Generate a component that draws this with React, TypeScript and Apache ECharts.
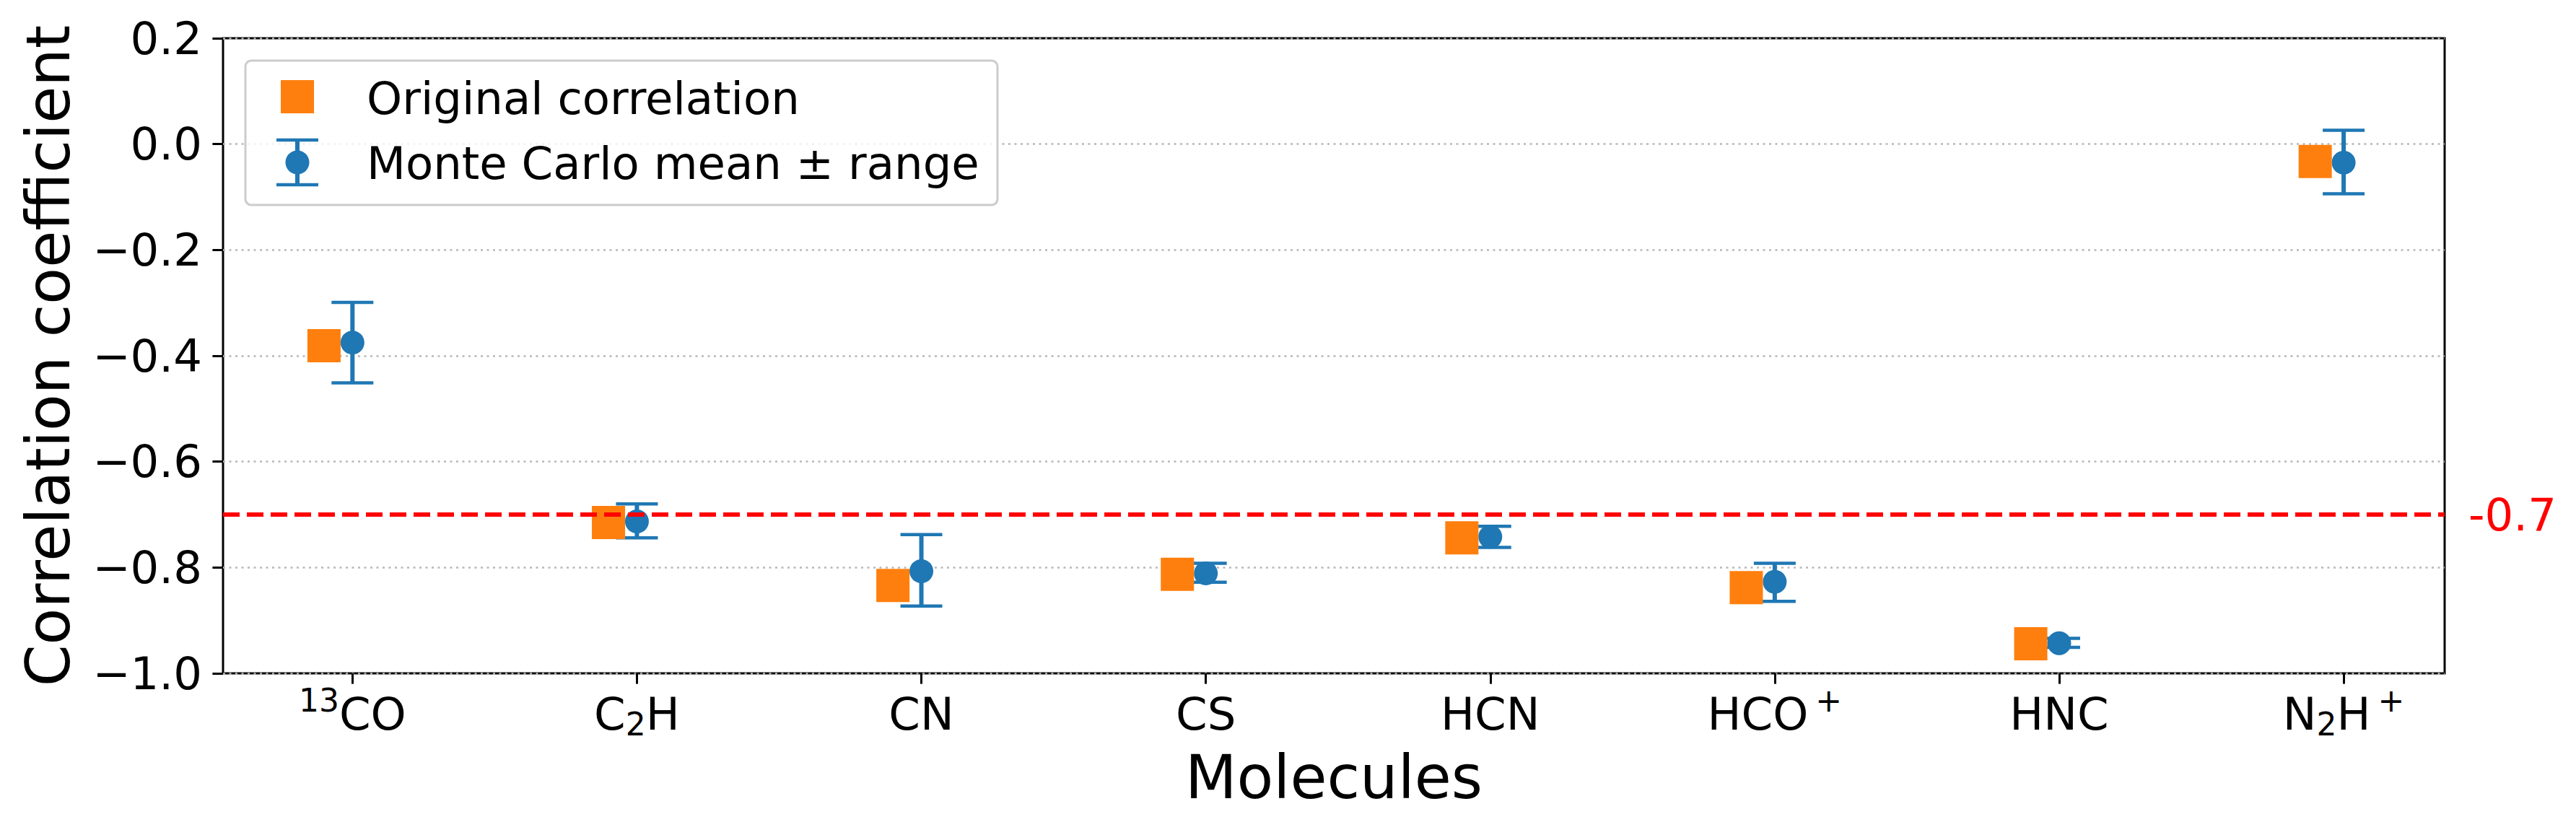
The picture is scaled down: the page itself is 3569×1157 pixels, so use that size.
import React, { useEffect, useRef } from 'react';
import * as echarts from 'echarts';

// ---- data ----
const molecules = ['13CO', 'C2H', 'CN', 'CS', 'HCN', 'HCO+', 'HNC', 'N2H+'];
const tickLabels = [
  '{sup|13}{n|CO}',
  '{n|C}{sub|2}{n|H}',
  '{n|CN}',
  '{n|CS}',
  '{n|HCN}',
  '{n|HCO}{supp|+}',
  '{n|HNC}',
  '{n|N}{sub|2}{n|H}{supp|+}',
];
const originalCorr = [-0.381, -0.715, -0.834, -0.813, -0.744, -0.838, -0.944, -0.033];
const mcMean = [-0.375, -0.713, -0.807, -0.811, -0.742, -0.827, -0.943, -0.035];
const mcLow = [-0.451, -0.744, -0.873, -0.828, -0.762, -0.864, -0.951, -0.094];
const mcHigh = [-0.299, -0.68, -0.738, -0.792, -0.722, -0.792, -0.934, 0.026];
const threshold = -0.7;
const xMin = -0.455;
const xMax = 7.355;
const yMin = -1.0;
const yMax = 0.2;
const yStep = 0.2;
const origOffset = -0.1;

const FONT = 'DejaVu Sans';
const BLUE = '#1f77b4';
const ORANGE = '#ff7f0e';

export default function App() {
  const ref = useRef<HTMLDivElement>(null);

  useEffect(() => {
    if (!ref.current) return;
    const chart = echarts.init(ref.current, null, { renderer: 'svg' });

    const positions = molecules.map((_, i) => i);
    const origData = positions.map((x, i) => [x + origOffset, originalCorr[i]]);
    const meanData = positions.map((x, i) => [x, mcMean[i]]);
    const errData = positions.map((x, i) => [x, mcLow[i], mcHigh[i]]);

    const richBase = { fontFamily: FONT, color: '#000', lineHeight: 90 };

    const option: any = {
      animation: false,
      backgroundColor: '#fff',
      textStyle: { fontFamily: FONT },
      grid: {
        left: 309,
        right: 182,
        top: 53,
        bottom: 224,
        show: true,
        borderColor: '#000',
        borderWidth: 3,
        backgroundColor: 'transparent',
      },
      xAxis: {
        type: 'value',
        min: xMin,
        max: xMax,
        position: 'bottom',
        name: 'Molecules',
        nameLocation: 'middle',
        nameGap: 103,
        nameTextStyle: { fontSize: 83, fontFamily: FONT, color: '#000' },
        axisLine: { show: false, onZero: false },
        splitLine: { show: false },
        axisTick: {
          show: true,
          customValues: positions,
          length: 14.6,
          lineStyle: { color: '#000', width: 3 },
        },
        axisLabel: {
          show: true,
          customValues: positions,
          margin: 11,
          formatter: (v: number) => tickLabels[Math.round(v)] ?? '',
          rich: {
            n: { ...richBase, fontSize: 62.5 },
            sup: { ...richBase, fontSize: 44, padding: [0, 0, 37, 0] },
            supp: { ...richBase, fontSize: 44, padding: [0, 0, 37, 10] },
            sub: { ...richBase, fontSize: 44, padding: [29, 0, 0, 0] },
          },
        },
      },
      yAxis: {
        type: 'value',
        min: yMin,
        max: yMax,
        interval: yStep,
        position: 'left',
        name: 'Correlation coefficient',
        nameLocation: 'middle',
        nameRotate: 90,
        nameGap: 200,
        nameTextStyle: { fontSize: 83, fontFamily: FONT, color: '#000' },
        axisLine: { show: false, onZero: false },
        axisTick: { show: true, length: 14.6, lineStyle: { color: '#000', width: 3 } },
        axisLabel: {
          fontSize: 62.5,
          fontFamily: FONT,
          color: '#000',
          margin: 29,
          formatter: (v: number) => {
            const s = (Math.abs(v) < 1e-9 ? 0 : v).toFixed(1);
            return s.replace('-', '\u2212');
          },
        },
        splitLine: {
          show: true,
          lineStyle: { color: '#b8b8b8', width: 2.5, type: [3, 5.5] },
        },
      },
      series: [
        {
          name: 'range',
          type: 'custom',
          z: 2,
          data: errData,
          encode: { x: 0, y: [1, 2] },
          renderItem: (params: any, api: any) => {
            const x = api.value(0);
            const lo = api.coord([x, api.value(1)]);
            const hi = api.coord([x, api.value(2)]);
            const half = 29;
            return {
              type: 'group',
              children: [
                {
                  type: 'line',
                  shape: { x1: lo[0], y1: lo[1], x2: hi[0], y2: hi[1] },
                  style: { stroke: BLUE, lineWidth: 6 },
                },
                {
                  type: 'line',
                  shape: { x1: lo[0] - half, y1: lo[1], x2: lo[0] + half, y2: lo[1] },
                  style: { stroke: BLUE, lineWidth: 4.5 },
                },
                {
                  type: 'line',
                  shape: { x1: hi[0] - half, y1: hi[1], x2: hi[0] + half, y2: hi[1] },
                  style: { stroke: BLUE, lineWidth: 4.5 },
                },
              ],
            };
          },
        },
        {
          name: 'Monte Carlo mean \u00b1 range',
          type: 'scatter',
          z: 2,
          symbol: 'circle',
          symbolSize: 33,
          itemStyle: { color: BLUE, opacity: 1 },
          data: meanData,
        },
        {
          name: 'Original correlation',
          type: 'scatter',
          z: 3,
          symbol: 'rect',
          symbolSize: 46,
          itemStyle: { color: ORANGE, opacity: 1 },
          data: origData,
          markLine: {
            silent: true,
            symbol: ['none', 'none'],
            lineStyle: { color: '#ff0000', width: 6, type: [23, 10] },
            label: {
              show: true,
              position: 'end',
              distance: 33,
              formatter: '-0.7',
              color: '#ff0000',
              fontSize: 62.5,
              fontFamily: FONT,
            },
            data: [{ yAxis: threshold }],
          },
        },
      ],
      graphic: [
        {
          type: 'group',
          z: 100,
          children: [
            {
              type: 'rect',
              z: 100,
              shape: { x: 340, y: 84, width: 1042, height: 200, r: 8 },
              style: { fill: 'rgba(255,255,255,0.8)', stroke: '#cccccc', lineWidth: 3 },
            },
            {
              type: 'rect',
              z: 101,
              shape: { x: 389, y: 111, width: 46, height: 46 },
              style: { fill: ORANGE },
            },
            {
              type: 'text',
              z: 101,
              x: 508,
              y: 136,
              style: {
                text: 'Original correlation',
                fontSize: 62.5,
                fontFamily: FONT,
                fill: '#000',
                verticalAlign: 'middle',
                align: 'left',
              },
            },
            {
              type: 'line',
              z: 101,
              shape: { x1: 412, y1: 194, x2: 412, y2: 256 },
              style: { stroke: BLUE, lineWidth: 6 },
            },
            {
              type: 'line',
              z: 101,
              shape: { x1: 383, y1: 194, x2: 441, y2: 194 },
              style: { stroke: BLUE, lineWidth: 4.5 },
            },
            {
              type: 'line',
              z: 101,
              shape: { x1: 383, y1: 256, x2: 441, y2: 256 },
              style: { stroke: BLUE, lineWidth: 4.5 },
            },
            {
              type: 'circle',
              z: 102,
              shape: { cx: 412, cy: 225, r: 16.5 },
              style: { fill: BLUE },
            },
            {
              type: 'text',
              z: 101,
              x: 508,
              y: 226.5,
              style: {
                text: 'Monte Carlo mean \u00b1 range',
                fontSize: 62.5,
                fontFamily: FONT,
                fill: '#000',
                verticalAlign: 'middle',
                align: 'left',
              },
            },
          ],
        },
      ],
    };

    chart.setOption(option);
    return () => {
      chart.dispose();
    };
  }, []);

  return (
    <div
      ref={ref}
      style={{ position: 'fixed', left: 0, top: 0, width: 3569, height: 1157, background: '#fff' }}
    />
  );
}
